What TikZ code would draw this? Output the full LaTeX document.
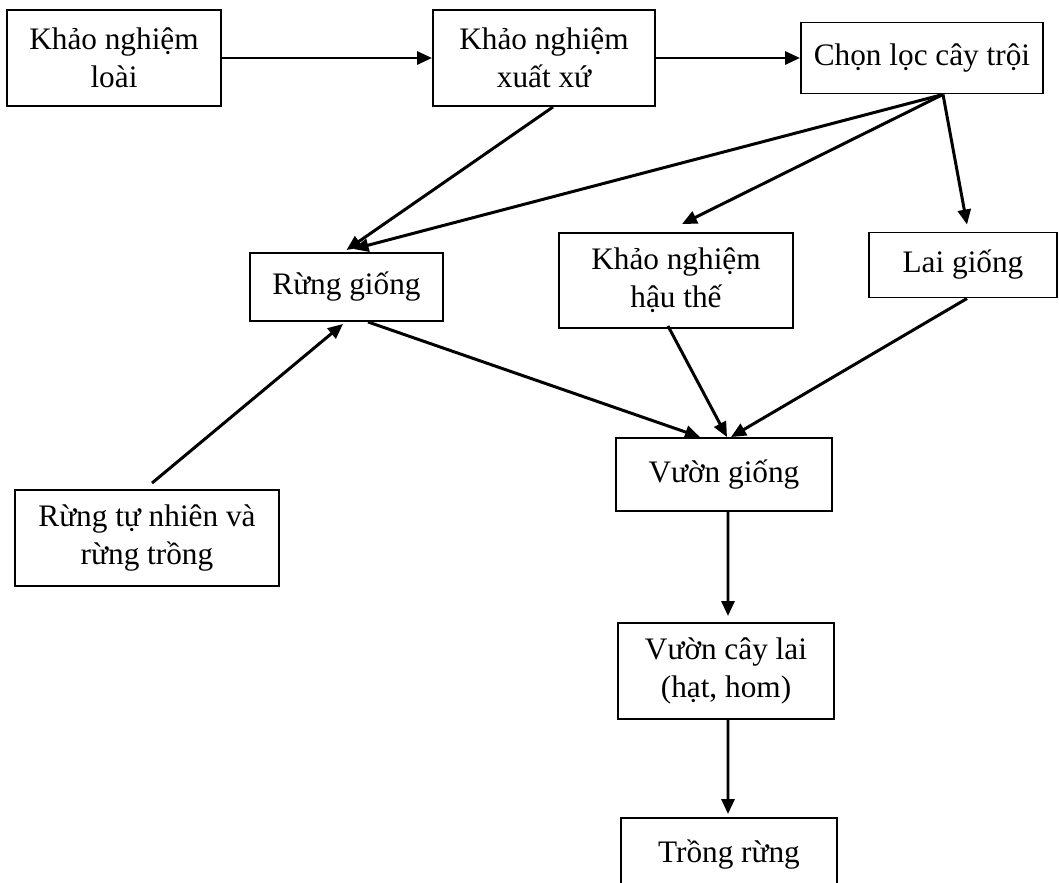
\documentclass[tikz,border=0pt]{standalone}
\usepackage{fontspec}
\setmainfont{Liberation Serif}
\usetikzlibrary{arrows.meta}
\tikzstyle{box} = [rectangle, text centered, align=center, draw=black,
line width=1.1pt, inner sep=0pt, font=\fontsize{17.8}{21.6}\selectfont]
\tikzstyle{arrow} = [line width=1.7pt,-{Triangle[length=0.30cm,width=0.26cm]}]

\begin{document}
\begin{tikzpicture}[node distance=2cm]

  \useasboundingbox (-2.28,1.16) rectangle (18.90,-16.50);

  \node (loai) [box, minimum width=4.28cm, minimum height=1.92cm] {Khảo nghiệm \\ loài};
  \node (xuatxu) [box, right of=loai, xshift=6.6cm, minimum width=4.44cm, minimum height=1.92cm] {Khảo nghiệm \\ xuất xứ};
  \node (chonloc) [box, right of=xuatxu, xshift=5.56cm, minimum width=4.84cm, minimum height=1.42cm] {Chọn lọc cây trội};

  \node (runggiong) [box, below of=loai, xshift=4.65cm, yshift=-2.58cm, minimum width=3.86cm, minimum height=1.36cm] {Rừng giống};
  \node (hauthe) [box, below of=xuatxu, xshift=2.64cm, yshift=-2.45cm, minimum width=4.68cm, minimum height=1.90cm] {Khảo nghiệm \\ hậu thế};
  \node (laigiong) [box, below of=chonloc, xshift=0.82cm, yshift=-2.14cm, minimum width=3.76cm, minimum height=1.30cm] {Lai giống};

  \node (vuongiong) [box, below of=hauthe, xshift=0.96cm, yshift=-1.88cm, minimum width=4.32cm, minimum height=1.46cm] {Vườn giống};
  \node (tunhien) [box, below of=runggiong, xshift=-3.99cm, yshift=-3.02cm, minimum width=5.28cm, minimum height=1.92cm] {Rừng tự nhiên và \\ rừng trồng};
  \node (caylai) [box, below of=vuongiong, xshift=0.04cm, yshift=-1.93cm, minimum width=4.32cm, minimum height=1.92cm] {Vườn cây lai \\ (hạt, hom)};
  \node (trongrung) [box, below of=caylai, xshift=0.06cm, yshift=-1.67cm, minimum width=4.32cm, minimum height=1.46cm] {Trồng rừng};

  \draw [arrow] (loai) -- (xuatxu);
  \draw [arrow] (xuatxu) -- (chonloc);

  \draw [arrow] ([xshift=0.18cm]xuatxu.south) -- ([yshift=0.04cm]runggiong.north);
  \draw [arrow] ([xshift=0.42cm]chonloc.south) -- ([xshift=0.14cm,yshift=0.06cm]runggiong.north);
  \draw [arrow] ([xshift=0.42cm]chonloc.south) -- ([xshift=0.12cm,yshift=0.16cm]hauthe.north);
  \draw [arrow] ([xshift=0.42cm]chonloc.south) -- ([xshift=0.08cm,yshift=0.14cm]laigiong.north);

  \draw [arrow] ([xshift=0.10cm,yshift=0.12cm]tunhien.north) -- ([xshift=-0.07cm,yshift=-0.04cm]runggiong.south);

  \draw [arrow] ([xshift=0.43cm]runggiong.south) -- ([xshift=-0.48cm]vuongiong.north);
  \draw [arrow] ([xshift=-0.16cm,yshift=0.06cm]hauthe.south) -- ([xshift=0.06cm]vuongiong.north);
  \draw [arrow] ([xshift=0.08cm]laigiong.south) -- ([xshift=0.14cm]vuongiong.north);

  \draw [arrow] ([xshift=0.08cm]vuongiong.south) -- ([xshift=0.04cm,yshift=0.12cm]caylai.north);
  \draw [arrow] ([xshift=0.04cm]caylai.south) -- ([xshift=-0.02cm,yshift=0.06cm]trongrung.north);

\end{tikzpicture}
\end{document}
